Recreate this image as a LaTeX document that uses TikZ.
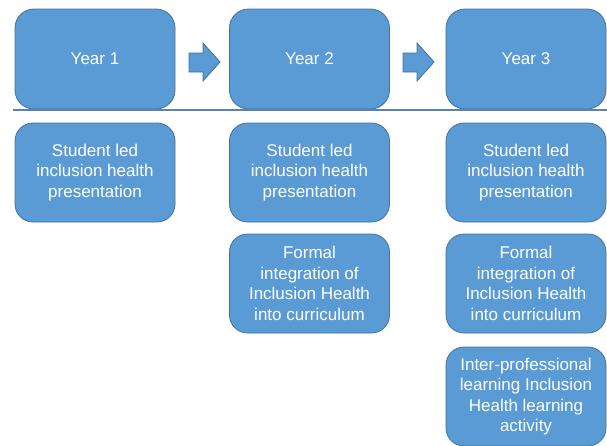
\documentclass[tikz,border=0pt]{standalone}
\usepackage{fontspec}
\setmainfont{Liberation Sans}
\definecolor{boxfill}{HTML}{5B9BD5}
\definecolor{boxline}{HTML}{41719C}
\definecolor{rule}{HTML}{5A82AE}
\begin{document}
\begin{tikzpicture}[x=1pt,y=-1pt,
  yearbox/.style={draw=boxline,line width=0.8pt,fill=boxfill,rounded corners=19pt,
    minimum width=160pt,minimum height=100pt,inner sep=0pt,text=white,
    font=\fontsize{17}{20.5}\selectfont},
  itembox/.style={draw=boxline,line width=0.8pt,fill=boxfill,rounded corners=18pt,
    minimum width=160pt,minimum height=99pt,inner sep=0pt,text=white,align=center,
    font=\fontsize{17}{20.5}\selectfont},
  blockarrow/.style={draw=boxline,line width=0.8pt,fill=boxfill}]
\useasboundingbox (0,0) rectangle (607,445);
% top row
\node[yearbox] (y1) at (95,59) {Year 1};
\node[yearbox] (y2) at (309.5,59) {Year 2};
\node[yearbox] (y3) at (526,59) {Year 3};
% block arrows
\draw[blockarrow] (189,53) -- (203,53) -- (203,43) -- (220,62) -- (203,81) -- (203,72) -- (189,72) -- cycle;
\draw[blockarrow] (403,53) -- (417,53) -- (417,43) -- (434,62) -- (417,81) -- (417,72) -- (403,72) -- cycle;
% separator
\draw[rule,line width=1.2pt] (13,110) -- (607,110);
% column 1
\node[itembox] (a1) at (95,172.5) {Student led\\inclusion health\\presentation};
% column 2
\node[itembox] (b1) at (309.5,172.5) {Student led\\inclusion health\\presentation};
\node[itembox] (b2) at (309.5,283.5) {Formal\\integration of\\Inclusion Health\\into curriculum};
% column 3
\node[itembox] (c1) at (526,172.5) {Student led\\inclusion health\\presentation};
\node[itembox] (c2) at (526,283.5) {Formal\\integration of\\Inclusion Health\\into curriculum};
\node[itembox] (c3) at (526,396.5) {Inter-professional\\learning Inclusion\\Health learning\\activity};
\end{tikzpicture}
\end{document}
